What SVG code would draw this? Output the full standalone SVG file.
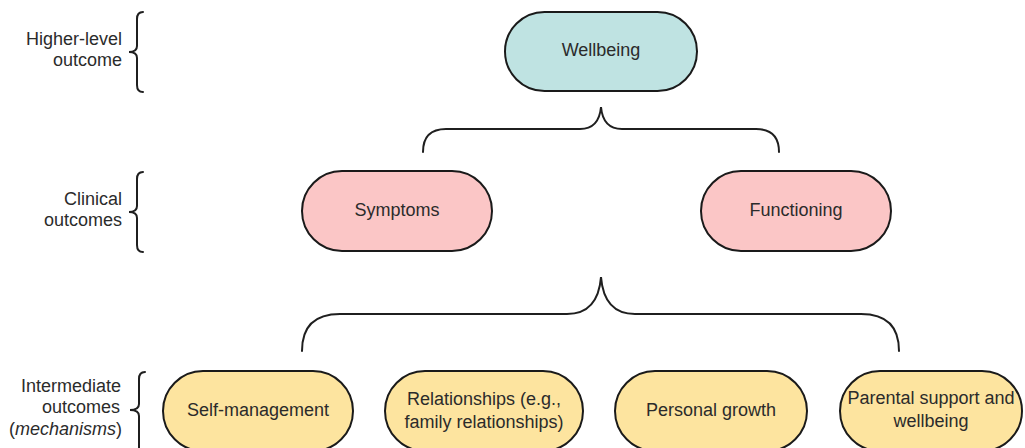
<svg xmlns="http://www.w3.org/2000/svg" width="1025" height="448" viewBox="0 0 1025 448">
<style>
text{font-family:"Liberation Sans",Arial,sans-serif;font-size:18px;fill:#2b2b2b}
.node text{text-anchor:middle}
.lbl{text-anchor:end}
.n{stroke:#1a1a1a;stroke-width:2}
.teal{fill:#bfe3e2}
.pink{fill:#fbc6c6}
.yel{fill:#fde49f}
.br{fill:none;stroke:#1f1f1f;stroke-width:2;stroke-linecap:round}
</style>
<rect width="1025" height="448" fill="#fff"/>
<g id="level-labels">
<text class="lbl" x="122" y="45">Higher-level</text>
<text class="lbl" x="122" y="66">outcome</text>
<path class="br" d="M143,12 Q137,12 137,19 L137,46 Q137,52 129,52 Q137,52 137,58 L137,85 Q137,92 143,92"/>
<text class="lbl" x="122" y="205">Clinical</text>
<text class="lbl" x="122" y="226">outcomes</text>
<path class="br" d="M143,172 Q137,172 137,179 L137,206 Q137,212 129,212 Q137,212 137,218 L137,245 Q137,252 143,252"/>
<text class="lbl" x="121" y="392">Intermediate</text>
<text class="lbl" x="120" y="413">outcomes</text>
<text class="lbl" x="122" y="435">(<tspan font-style="italic">mechanisms</tspan>)</text>
<path class="br" d="M145,372 Q139,372 139,379 L139,404 Q139,410 130,410 Q139,410 139,416 L139,450"/>
</g>
<g id="connectors">
<path class="br" d="M423,152 Q423,129 446,129 L580,129 Q599,129 601,107 Q603,129 622,129 L756,129 Q779,129 779,152"/>
<path class="br" d="M302,351 Q302,314 340,314 L567,314 Q598,314 601,277 Q604,314 635,314 L861,314 Q899,314 899,351"/>
</g>
<g id="wellbeing" class="node">
<rect class="n teal" x="505" y="12" width="192" height="79" rx="39.5"/>
<text x="601" y="56">Wellbeing</text>
</g>
<g id="symptoms" class="node">
<rect class="n pink" x="302" y="171" width="190" height="80" rx="40"/>
<text x="397" y="216">Symptoms</text>
</g>
<g id="functioning" class="node">
<rect class="n pink" x="701" y="171" width="190" height="80" rx="40"/>
<text x="796" y="216">Functioning</text>
</g>
<g id="self-management" class="node">
<rect class="n yel" x="163" y="371" width="190" height="80" rx="40"/>
<text x="258" y="416">Self-management</text>
</g>
<g id="relationships" class="node">
<rect class="n yel" x="385" y="371" width="198" height="80" rx="40"/>
<text x="484" y="405">Relationships (e.g.,</text>
<text x="484" y="428">family relationships)</text>
</g>
<g id="personal-growth" class="node">
<rect class="n yel" x="615" y="371" width="192" height="80" rx="40"/>
<text x="711" y="416">Personal growth</text>
</g>
<g id="parental-support" class="node">
<rect class="n yel" x="840" y="371" width="182" height="80" rx="40"/>
<text x="931" y="404">Parental support and</text>
<text x="931" y="427">wellbeing</text>
</g>
</svg>
